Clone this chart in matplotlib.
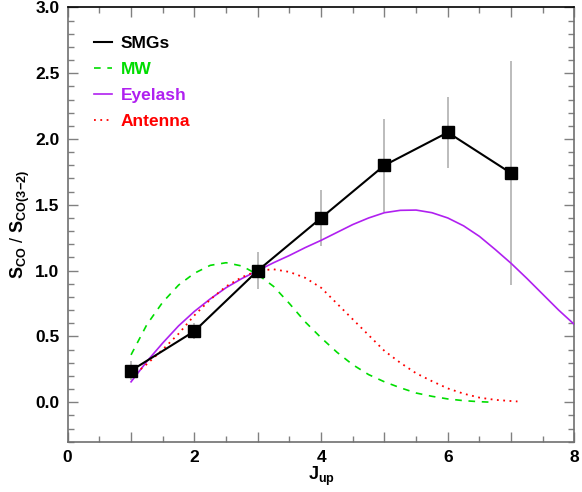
import matplotlib
matplotlib.use("Agg")
import matplotlib.pyplot as plt
from matplotlib.ticker import MultipleLocator, FuncFormatter

plt.rcParams['font.family'] = ['Liberation Sans', 'DejaVu Sans']
plt.rcParams['font.weight'] = 'bold'
plt.rcParams['mathtext.fontset'] = 'custom'
plt.rcParams['mathtext.rm'] = 'Liberation Sans:bold'
plt.rcParams['mathtext.it'] = 'Liberation Sans:bold'
plt.rcParams['mathtext.bf'] = 'Liberation Sans:bold'
plt.rcParams['mathtext.default'] = 'rm'

# SMG data
smg_j = [1, 2, 3, 4, 5, 6, 7]
smg_r = [0.24, 0.54, 1.00, 1.40, 1.80, 2.05, 1.74]
smg_lo = [0.17, 0.48, 0.86, 1.19, 1.445, 1.78, 0.89]
smg_hi = [0.31, 0.60, 1.14, 1.61, 2.15, 2.32, 2.59]

# MW (dashed green)
mw_j = [1.0, 1.25, 1.5, 1.75, 2.0, 2.25, 2.5, 2.75, 3.0, 3.25, 3.5, 3.75, 4.0,
        4.25, 4.5, 4.75, 5.0, 5.25, 5.5, 5.75, 6.0, 6.25, 6.5, 6.7]
mw_r = [0.36, 0.59, 0.76, 0.89, 0.98, 1.04, 1.06, 1.035, 0.97, 0.88, 0.75, 0.61, 0.49,
        0.38, 0.285, 0.21, 0.155, 0.11, 0.07, 0.045, 0.025, 0.012, 0.004, 0.0]

# Eyelash (purple)
eye_j = [1.0, 1.25, 1.5, 1.75, 2.0, 2.25, 2.5, 2.75, 3.0, 3.25, 3.5, 3.75, 4.0, 4.25,
         4.5, 4.75, 5.0, 5.25, 5.5, 5.75, 6.0, 6.25, 6.5, 6.75, 7.0, 7.25, 7.5, 7.75, 8.0]
eye_r = [0.155, 0.31, 0.45, 0.58, 0.69, 0.785, 0.87, 0.94, 1.0, 1.06, 1.115, 1.175, 1.23, 1.29,
         1.35, 1.40, 1.44, 1.458, 1.46, 1.44, 1.40, 1.34, 1.26, 1.16, 1.055, 0.94, 0.82, 0.70, 0.59]

# Antenna (red dotted)
ant_j = [1.0, 1.25, 1.5, 1.75, 2.0, 2.25, 2.5, 2.75, 3.0, 3.25, 3.5, 3.75, 4.0, 4.25,
         4.5, 4.75, 5.0, 5.25, 5.5, 5.75, 6.0, 6.25, 6.5, 6.75, 7.0, 7.1]
ant_r = [0.19, 0.29, 0.40, 0.52, 0.66, 0.78, 0.88, 0.95, 1.0, 1.01, 0.99, 0.945, 0.87, 0.75,
         0.63, 0.51, 0.39, 0.30, 0.22, 0.16, 0.105, 0.065, 0.035, 0.018, 0.009, 0.006]

fig = plt.figure(figsize=(5.82, 4.92), dpi=100)
ax = fig.add_axes([0.1163, 0.1022, 0.8708, 0.8828])

yerr = [[r - l for r, l in zip(smg_r, smg_lo)], [h - r for r, h in zip(smg_r, smg_hi)]]
ax.errorbar(smg_j, smg_r, yerr=yerr, fmt='none', ecolor='#b0b0b0', elinewidth=1.2, capsize=0, zorder=2)
ax.plot(mw_j, mw_r, color='#00dd00', ls=(0, (4, 4)), lw=1.2, label='MW', zorder=3)
ax.plot(eye_j, eye_r, color='#b020f0', ls='-', lw=1.2, label='Eyelash', zorder=3)
ax.plot(ant_j, ant_r, color='#ff0000', ls=(0, (1, 2.5)), lw=1.3, label='Antenna', zorder=3)
ax.plot(smg_j, smg_r, color='black', lw=1.5, marker='s', markersize=8.5, zorder=4)
h_smg, = ax.plot([], [], color='black', lw=1.5, label='SMGs')

handles, labels = ax.get_legend_handles_labels()
order = [labels.index(n) for n in ['SMGs', 'MW', 'Eyelash', 'Antenna']]
leg = ax.legend([handles[i] for i in order], [labels[i] for i in order],
                loc='upper left', bbox_to_anchor=(0.022, 0.97), frameon=False,
                fontsize=12.5, handlelength=1.0, handletextpad=0.5, labelspacing=0.62,
                labelcolor=['black', '#00dd00', '#b020f0', '#ff0000'])
for t in leg.get_texts():
    t.set_fontweight('bold')

ax.set_xlim(0, 8)
ax.set_ylim(-0.3, 3.0)
ax.xaxis.set_major_locator(MultipleLocator(1))
ax.xaxis.set_minor_locator(MultipleLocator(0.5))
ax.xaxis.set_major_formatter(FuncFormatter(lambda v, p: '%d' % round(v) if round(v) % 2 == 0 else ''))
ax.yaxis.set_major_locator(MultipleLocator(0.5))
ax.yaxis.set_minor_locator(MultipleLocator(0.1))
ax.yaxis.set_major_formatter(FuncFormatter(lambda v, p: '%.1f' % v))

ax.tick_params(which='both', direction='in', top=True, right=True, color='#808080', width=1.0)
ax.tick_params(which='major', length=7, labelsize=12.5, pad=6)
ax.tick_params(which='minor', length=4)
for lab in ax.get_xticklabels() + ax.get_yticklabels():
    lab.set_fontweight('bold')
for s in ['left', 'bottom', 'right']:
    ax.spines[s].set_color('#707070')
ax.spines['top'].set_color('black')
for s in ax.spines.values():
    s.set_linewidth(1.2)

ax.set_xlabel(r'$J_{up}$', fontsize=13, labelpad=0)
ax.set_ylabel(r'$S_{CO}$ / $S_{CO(3\!-\!2)}$', fontsize=13, labelpad=2)

fig.savefig('out.png', dpi=100)
